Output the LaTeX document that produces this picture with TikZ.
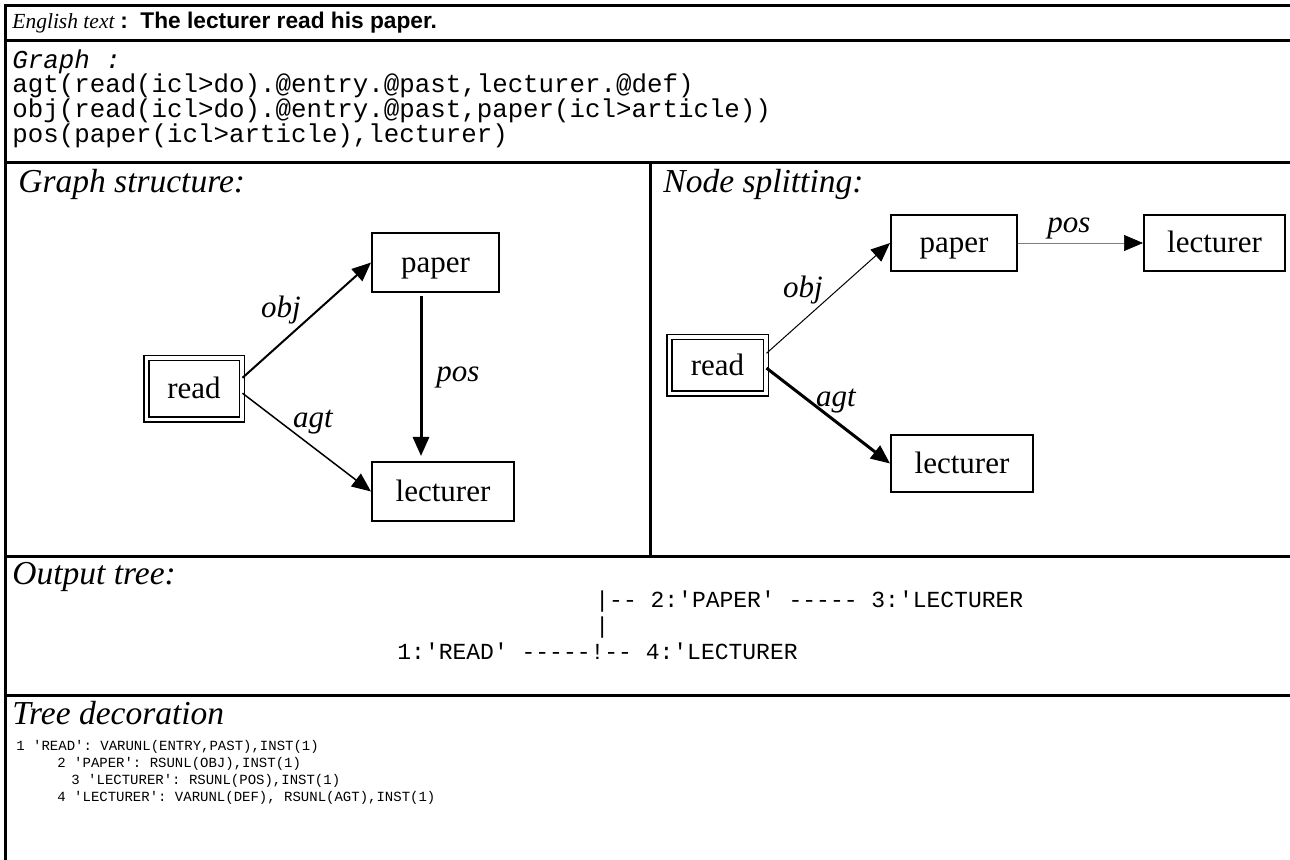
\documentclass[tikz,border=0pt]{standalone}
\usepackage{fontspec}
\setmainfont{Liberation Serif}
\setsansfont{Liberation Sans}
\setmonofont{Liberation Mono}
\usetikzlibrary{arrows.meta}

\begin{document}
\begin{tikzpicture}[x=0.5pt, y=-0.5pt,
    unl/.style={draw, line width=1pt, inner sep=0pt, minimum height=29.5pt,
      text height=13pt, text depth=3pt, font=\fontsize{15.5}{18}\selectfont},
    entrybox/.style={unl, double, double distance=1.75pt, line width=0.75pt},
    rel/.style={-{Triangle[length=9.5pt, width=8pt, color=black]}},
    rellab/.style={inner sep=0pt, font=\fontsize{15.5}{18}\selectfont\itshape},
    paneltitle/.style={anchor=base west, inner sep=0pt,
      font=\fontsize{16.75}{20}\selectfont\itshape},
    codeline/.style={anchor=base west, inner sep=0pt,
      font=\ttfamily\fontsize{12.9}{15}\selectfont},
    treeline/.style={anchor=base west, inner sep=0pt,
      font=\ttfamily\fontsize{11.5}{14}\selectfont},
    decoline/.style={anchor=base west, inner sep=0pt,
      font=\ttfamily\fontsize{7}{8}\selectfont},
    sepline/.style={line width=1.5pt}]
\useasboundingbox (0,0) rectangle (1290,860);

% table rules
\draw[sepline] (1290,6) -- (5,6) -- (5,860);
\draw[sepline] (5,41) -- (1290,41);
\draw[sepline] (5,163) -- (1290,163);
\draw[sepline] (5,557) -- (1290,557);
\draw[sepline] (650,163) -- (650,557);
\draw[sepline] (5,695) -- (1290,695);

% sentence and graph
\node[anchor=base west, inner sep=0pt, font=\fontsize{10.75}{13}\selectfont] (english) at (12,29)
  {\textit{English text} {\sffamily\bfseries\fontsize{11.35}{13}\selectfont :\ \ The lecturer read his paper.}};
\node[codeline] (graphhd) at (12,69) {\itshape Graph :};
\node[codeline] (agtline) at (12,93) {agt(read(icl>do).@entry.@past,lecturer.@def)};
\node[codeline] (objline) at (12,118) {obj(read(icl>do).@entry.@past,paper(icl>article))};
\node[codeline] (posline) at (12,143) {pos(paper(icl>article),lecturer)};

% graph structure
\node[paneltitle] (gstruct) at (18,193) {Graph structure:};
\node[entrybox, minimum width=47.75pt, minimum height=30.75pt] (readL) at (194,389) {read};
\node[unl, minimum width=63.5pt] (paperL) at (435.5,262.5) {paper};
\node[unl, minimum width=71pt] (lecturerL) at (443,491.5) {lecturer};
\draw[rel, line width=1pt] (readL.13) -- (paperL.west);
\draw[rel, line width=0.75pt] (readL.-5) -- (lecturerL.west);
\draw[rel, line width=1.5pt, shorten <=1.5pt, shorten >=2.5pt]
  ([xshift=-7.25pt]paperL.south) -- ([xshift=-11pt]lecturerL.north);
\node[rellab] (objL) at (281,310) {obj};
\node[rellab] (posL) at (458,377) {pos};
\node[rellab] (agtL) at (313,422) {agt};

% node splitting
\node[paneltitle] (nsplit) at (663,193) {Node splitting:};
\node[entrybox, minimum width=48.25pt, minimum height=28.25pt] (readR) at (717.5,365.5) {read};
\node[unl, minimum width=63pt, minimum height=28pt] (paperR) at (954,243) {paper};
\node[unl, minimum width=70.5pt, minimum height=28pt] (lecturerR) at (1214.5,243) {lecturer};
\node[unl, minimum width=71pt, minimum height=28.5pt] (lecturerS) at (962,463.5) {lecturer};
\draw[rel, line width=0.5pt] (readR.14) -- (paperR.west);
\draw[rel, line width=1.5pt] (readR.-3) -- (lecturerS.west);
\draw[rel, line width=0.3pt, draw=gray] (paperR.east) -- (lecturerR.west);
\node[rellab] (objR) at (803,290) {obj};
\node[rellab] (posR) at (1069,229) {pos};
\node[rellab] (agtR) at (836,401) {agt};

% output tree
\node[paneltitle] (otree) at (12,584) {Output tree:};
\node[treeline] (tree1) at (595,607) {|-- 2:'PAPER' ----- 3:'LECTURER};
\node[treeline] (tree2) at (595,633) {|};
\node[treeline] (tree3) at (397,659) {1:'READ' -----!-- 4:'LECTURER};

% tree decoration
\node[paneltitle] (tdeco) at (12,724) {Tree decoration};
\node[decoline] (dec1) at (16,750) {1 'READ': VARUNL(ENTRY,PAST),INST(1)};
\node[decoline] (dec2) at (57,767) {2 'PAPER': RSUNL(OBJ),INST(1)};
\node[decoline] (dec3) at (71,784) {3 'LECTURER': RSUNL(POS),INST(1)};
\node[decoline] (dec4) at (57,801) {4 'LECTURER': VARUNL(DEF), RSUNL(AGT),INST(1)};
\end{tikzpicture}
\end{document}
